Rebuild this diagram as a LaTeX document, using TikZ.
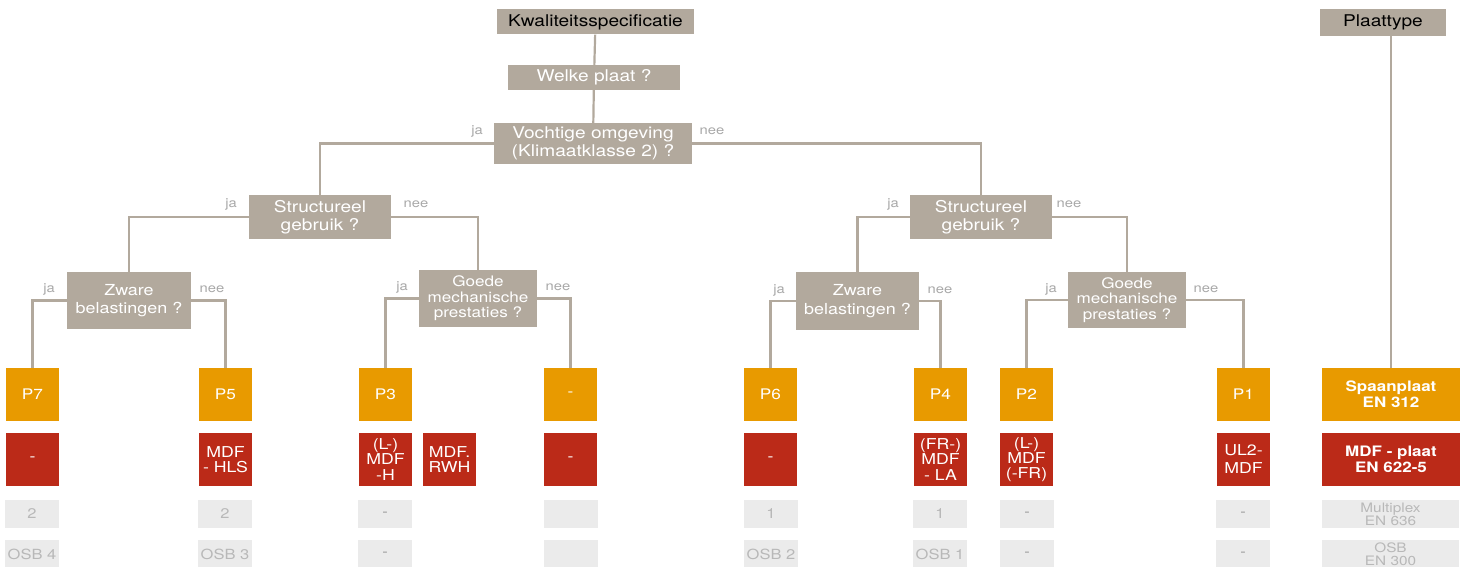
\documentclass[tikz,border=0pt]{standalone}
\usepackage{fontspec}
\setmainfont[FakeStretch=1.18]{TeX Gyre Heros}
\definecolor{taupe}{HTML}{B2A99D}
\definecolor{plorange}{HTML}{E89A00}
\definecolor{plred}{HTML}{BB2A18}
\definecolor{plgrey}{HTML}{EBEBEB}
\definecolor{greytext}{HTML}{B8B8B8}
\definecolor{greydash}{HTML}{9A9A9A}
\definecolor{yntext}{HTML}{A8A8A8}
\tikzset{
  qbox/.style={fill=taupe, text=white, inner sep=0pt, align=center, font=\fontsize{16.2}{18}\selectfont},
  pbox/.style={fill=plorange, text=white, inner sep=0pt, align=center, minimum width=53, minimum height=53, font=\fontsize{14.6}{15.6}\selectfont},
  mbox/.style={fill=plred, text=white, inner sep=0pt, align=center, minimum width=53, minimum height=53, font=\fontsize{15}{15.2}\selectfont},
  gbox/.style={fill=plgrey, text=greytext, inner sep=0pt, align=center, minimum width=54, minimum height=28, font=\fontsize{14}{13}\selectfont},
  yn/.style={text=yntext, inner sep=0pt, font=\fontsize{12.5}{13}\selectfont},
  conn/.style={draw=taupe, line width=2.2}
}
\begin{document}
\begin{tikzpicture}[x=1pt, y=1pt]
  \path[use as bounding box] (0,0) rectangle (1467,-567);

  % vragen
  \node[qbox, text=black, minimum width=197, minimum height=25] (kwal) at (595.5,-22) {Kwaliteitsspecificatie};
  \node[qbox, minimum width=172, minimum height=25] (welke) at (594,-77.5) {Welke plaat ?};
  \node[qbox, minimum width=198, minimum height=41] (vocht) at (593,-143.5) {Vochtige omgeving\\(Klimaatklasse 2) ?};
  \node[qbox, minimum width=142, minimum height=44] (strL) at (320,-217) {Structureel\\gebruik ?};
  \node[qbox, minimum width=142, minimum height=44] (strR) at (981,-217) {Structureel\\gebruik ?};
  \node[qbox, minimum width=124, minimum height=57, font=\fontsize{15.2}{18.5}\selectfont] (zwL) at (129,-300.5) {Zware\\belastingen ?};
  \node[qbox, minimum width=123, minimum height=58, font=\fontsize{15.2}{18.5}\selectfont] (zwR) at (857.5,-301) {Zware\\belastingen ?};
  \node[qbox, minimum width=118, minimum height=57, font=\fontsize{14.5}{15.5}\selectfont] (goL) at (478,-298.5) {Goede\\mechanische\\prestaties ?};
  \node[qbox, minimum width=118, minimum height=56, font=\fontsize{14.5}{15.5}\selectfont] (goR) at (1127,-300) {Goede\\mechanische\\prestaties ?};
  \node[qbox, text=black, minimum width=126, minimum height=27] (ptype) at (1383,-22.5) {Plaattype};

  % ja / nee
  \node[yn] (vochtja) at (477,-131) {ja};
  \node[yn] (vochtnee) at (712,-131) {nee};
  \node[yn] (strLja) at (231,-204) {ja};
  \node[yn] (strLnee) at (416,-204) {nee};
  \node[yn] (strRja) at (893,-204) {ja};
  \node[yn] (strRnee) at (1069,-204) {nee};
  \node[yn] (zwLja) at (49,-289) {ja};
  \node[yn] (zwLnee) at (212,-289) {nee};
  \node[yn] (goLja) at (402,-287) {ja};
  \node[yn] (goLnee) at (558,-287) {nee};
  \node[yn] (zwRja) at (779,-290) {ja};
  \node[yn] (zwRnee) at (940,-290) {nee};
  \node[yn] (goRja) at (1051,-289) {ja};
  \node[yn] (goRnee) at (1206,-289) {nee};

  % klassen
  \node[pbox] (p7) at (32.5,-394.5) {P7};
  \node[pbox] (p5) at (225.5,-394.5) {P5};
  \node[pbox] (p3) at (385.5,-394.5) {P3};
  \node[pbox] (pnone) at (570.5,-394.5) {-};
  \node[pbox] (p6) at (770.5,-394.5) {P6};
  \node[pbox] (p4) at (940.5,-394.5) {P4};
  \node[pbox] (p2) at (1026.5,-394.5) {P2};
  \node[pbox] (p1) at (1243.5,-394.5) {P1};
  \node[pbox, minimum width=138, font=\bfseries\fontsize{14.4}{15.7}\selectfont] (spaan) at (1391,-394.5) {Spaanplaat\\EN 312};

  % MDF
  \node[mbox] (m7) at (32.5,-459.5) {-};
  \node[mbox] (m5) at (225.5,-459.5) {MDF\\- HLS};
  \node[mbox] (m3) at (385.5,-459.5) {(L-)\\MDF\\-H};
  \node[mbox] (m3b) at (449.5,-459.5) {MDF.\\RWH};
  \node[mbox] (mnone) at (570.5,-459.5) {-};
  \node[mbox] (m6) at (770.5,-459.5) {-};
  \node[mbox] (m4) at (940.5,-459.5) {(FR-)\\MDF\\- LA};
  \node[mbox] (m2) at (1026.5,-459.5) {(L-)\\MDF\\(-FR)};
  \node[mbox, font=\fontsize{15}{18}\selectfont] (m1) at (1243.5,-459.5) {UL2-\\MDF};
  \node[mbox, minimum width=138, font=\bfseries\fontsize{14.4}{15.7}\selectfont] (mdf) at (1391,-459.5) {MDF - plaat\\EN 622-5};

  % multiplex
  \node[gbox] (x7) at (32,-514) {2};
  \node[gbox] (x5) at (225,-514) {2};
  \node[gbox, text=greydash] (x3) at (385,-514) {-};
  \node[gbox] (xnone) at (571,-514) {};
  \node[gbox] (x6) at (771,-514) {1};
  \node[gbox] (x4) at (940,-514) {1};
  \node[gbox, text=greydash] (x2) at (1027,-514) {-};
  \node[gbox, text=greydash] (x1) at (1243,-514) {-};
  \node[gbox, minimum width=137, font=\fontsize{13}{13}\selectfont] (mplex) at (1390.5,-514) {Multiplex\\EN 636};

  % OSB
  \node[gbox] (o7) at (32,-554) {OSB 4};
  \node[gbox] (o5) at (225,-554) {OSB 3};
  \node[gbox, text=greydash] (o3) at (385,-554) {-};
  \node[gbox] (onone) at (571,-554) {};
  \node[gbox] (o6) at (771,-554) {OSB 2};
  \node[gbox] (o4) at (940,-554) {OSB 1};
  \node[gbox, text=greydash] (o2) at (1027,-554) {-};
  \node[gbox, text=greydash] (o1) at (1243,-554) {-};
  \node[gbox, minimum width=137, font=\fontsize{13}{13}\selectfont] (osb) at (1390.5,-554) {OSB\\EN 300};

  % lijnen
  \draw[conn] (kwal) -- (welke);
  \draw[conn] (welke) -- (vocht);
  \draw[conn] (vocht.west) -| (strL.north);
  \draw[conn] (vocht.east) -| (strR.north);
  \draw[conn] (strL.west) -| (zwL.north);
  \draw[conn] (strL.east) -| (goL.north);
  \draw[conn] (strR.west) -| (zwR.north);
  \draw[conn] (strR.east) -| (goR.north);
  \draw[conn] (zwL.west) -| (p7.north);
  \draw[conn] (zwL.east) -| (p5.north);
  \draw[conn] (goL.west) -| (p3.north);
  \draw[conn] (goL.east) -| (pnone.north);
  \draw[conn] (zwR.west) -| (p6.north);
  \draw[conn] (zwR.east) -| (p4.north);
  \draw[conn] (goR.west) -| (p2.north);
  \draw[conn] (goR.east) -| (p1.north);
  \draw[conn] (spaan.north) -- (spaan.north |- ptype.south);
\end{tikzpicture}
\end{document}
